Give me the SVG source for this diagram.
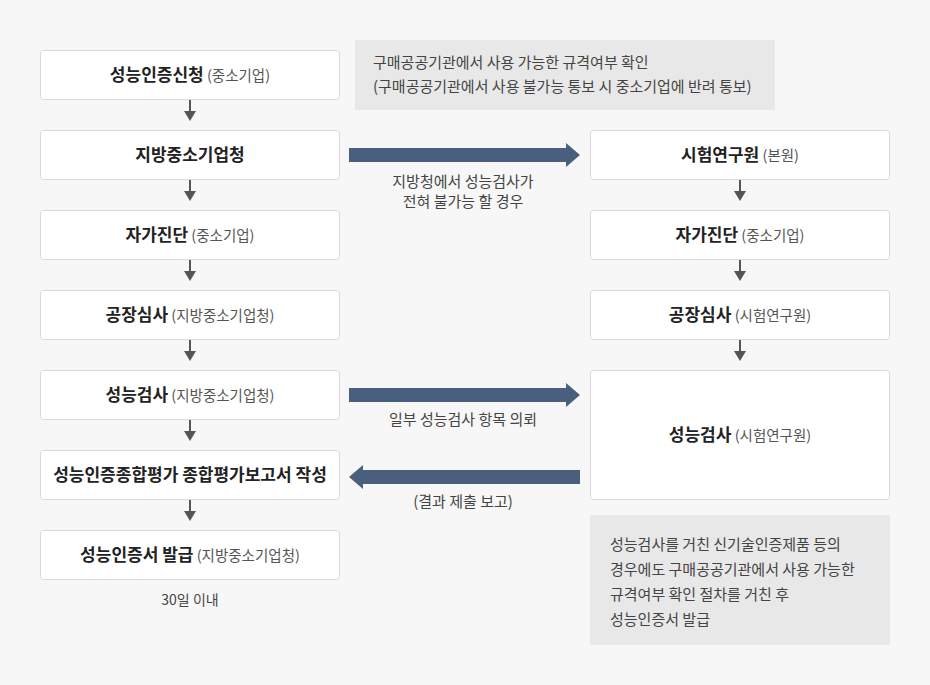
<svg xmlns="http://www.w3.org/2000/svg" width="930" height="685" viewBox="0 0 930 685">
<defs>
<style>
text{font-family:"Noto Sans CJK KR","Noto Sans",sans-serif;}
.box{fill:#ffffff;stroke:#d9d9d9;stroke-width:1;}
.note{fill:#e8e8e8;}
.t{font-size:17px;font-weight:bold;fill:#222;}
.s{font-size:14.5px;font-weight:normal;fill:#555;}
.n{font-size:15px;fill:#444;}
.lbl{font-size:15px;fill:#444;text-anchor:middle;}
.v{stroke:#555;stroke-width:2;fill:none;}
.big{fill:#4a5e7d;}
</style>
<marker id="ah" markerWidth="10" markerHeight="12" refX="0" refY="0" viewBox="0 -6 10 12" orient="auto" markerUnits="userSpaceOnUse">
<path d="M0,-6 L10,0 L0,6 Z" fill="#555"/>
</marker>
</defs>
<rect width="930" height="685" fill="#f7f7f7"/>

<g id="note-top">
<rect class="note" x="355" y="40" width="420" height="70"/>
<text class="n" x="373" y="68">구매공공기관에서 사용 가능한 규격여부 확인</text>
<text class="n" x="373" y="92">(구매공공기관에서 사용 불가능 통보 시 중소기업에 반려 통보)</text>
</g>

<g id="L1"><rect class="box" x="40.5" y="50.5" width="299" height="49" rx="3"/>
<text x="190" y="81" text-anchor="middle"><tspan class="t">성능인증신청</tspan><tspan class="s"> (중소기업)</tspan></text></g>
<g id="L2"><rect class="box" x="40.5" y="130.5" width="299" height="49" rx="3"/>
<text x="190" y="161" text-anchor="middle"><tspan class="t">지방중소기업청</tspan></text></g>
<g id="L3"><rect class="box" x="40.5" y="210.5" width="299" height="49" rx="3"/>
<text x="190" y="241" text-anchor="middle"><tspan class="t">자가진단</tspan><tspan class="s"> (중소기업)</tspan></text></g>
<g id="L4"><rect class="box" x="40.5" y="290.5" width="299" height="49" rx="3"/>
<text x="190" y="321" text-anchor="middle"><tspan class="t">공장심사</tspan><tspan class="s"> (지방중소기업청)</tspan></text></g>
<g id="L5"><rect class="box" x="40.5" y="370.5" width="299" height="49" rx="3"/>
<text x="190" y="401" text-anchor="middle"><tspan class="t">성능검사</tspan><tspan class="s"> (지방중소기업청)</tspan></text></g>
<g id="L6"><rect class="box" x="40.5" y="450.5" width="299" height="49" rx="3"/>
<text x="190" y="481" text-anchor="middle"><tspan class="t">성능인증종합평가 종합평가보고서 작성</tspan></text></g>
<g id="L7"><rect class="box" x="40.5" y="530.5" width="299" height="49" rx="3"/>
<text x="190" y="561" text-anchor="middle"><tspan class="t">성능인증서 발급</tspan><tspan class="s"> (지방중소기업청)</tspan></text></g>
<g id="L7-note"><text class="lbl" x="190" y="605" style="font-size:14px">30일 이내</text></g>

<g id="R1"><rect class="box" x="590.5" y="130.5" width="299" height="49" rx="3"/>
<text x="740" y="161" text-anchor="middle"><tspan class="t">시험연구원</tspan><tspan class="s"> (본원)</tspan></text></g>
<g id="R2"><rect class="box" x="590.5" y="210.5" width="299" height="49" rx="3"/>
<text x="740" y="241" text-anchor="middle"><tspan class="t">자가진단</tspan><tspan class="s"> (중소기업)</tspan></text></g>
<g id="R3"><rect class="box" x="590.5" y="290.5" width="299" height="49" rx="3"/>
<text x="740" y="321" text-anchor="middle"><tspan class="t">공장심사</tspan><tspan class="s"> (시험연구원)</tspan></text></g>
<g id="R4"><rect class="box" x="590.5" y="370.5" width="299" height="129" rx="3"/>
<text x="740" y="441" text-anchor="middle"><tspan class="t">성능검사</tspan><tspan class="s"> (시험연구원)</tspan></text></g>

<g id="note-bottom">
<rect class="note" x="590" y="515" width="300" height="130"/>
<text class="n" x="610" y="550">성능검사를 거친 신기술인증제품 등의</text>
<text class="n" x="610" y="575">경우에도 구매공공기관에서 사용 가능한</text>
<text class="n" x="610" y="600">규격여부 확인 절차를 거친 후</text>
<text class="n" x="610" y="625">성능인증서 발급</text>
</g>

<g id="connectors">
<line class="v" x1="190" y1="100" x2="190" y2="111" marker-end="url(#ah)"/>
<line class="v" x1="190" y1="180" x2="190" y2="191" marker-end="url(#ah)"/>
<line class="v" x1="190" y1="260" x2="190" y2="271" marker-end="url(#ah)"/>
<line class="v" x1="190" y1="340" x2="190" y2="351" marker-end="url(#ah)"/>
<line class="v" x1="190" y1="420" x2="190" y2="431" marker-end="url(#ah)"/>
<line class="v" x1="190" y1="500" x2="190" y2="511" marker-end="url(#ah)"/>
<line class="v" x1="740" y1="180" x2="740" y2="191" marker-end="url(#ah)"/>
<line class="v" x1="740" y1="260" x2="740" y2="271" marker-end="url(#ah)"/>
<line class="v" x1="740" y1="340" x2="740" y2="351" marker-end="url(#ah)"/>
<path class="big" d="M349,148 L566,148 L566,143 L580,155 L566,167 L566,162 L349,162 Z"/>
<path class="big" d="M349,388 L566,388 L566,383 L580,395 L566,407 L566,402 L349,402 Z"/>
<path class="big" d="M580,470 L363,470 L363,465 L349,477 L363,489 L363,484 L580,484 Z"/>
<text class="lbl" x="463" y="187">지방청에서 성능검사가</text>
<text class="lbl" x="463" y="207">전혀 불가능 할 경우</text>
<text class="lbl" x="463" y="425">일부 성능검사 항목 의뢰</text>
<text class="lbl" x="463" y="507">(결과 제출 보고)</text>
</g>
</svg>
